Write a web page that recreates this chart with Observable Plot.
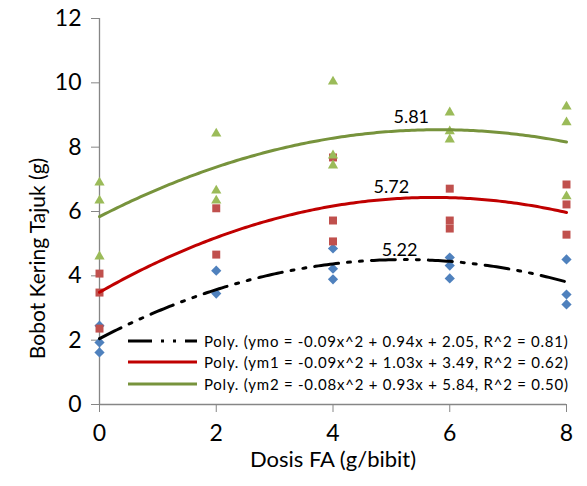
<!DOCTYPE html>
<html>
<head>
<meta charset="utf-8">
<script src="https://cdn.jsdelivr.net/npm/d3@7"></script>
<script src="https://cdn.jsdelivr.net/npm/@observablehq/plot@0.6"></script>
<style>
  body { margin: 0; background: #fff; }
  #chart { position: relative; width: 587px; height: 486px; font-family: Lato, "Liberation Sans", sans-serif; }
  #legend { position: absolute; left: 128px; top: 330px; font-size: 15px; letter-spacing: 0.75px; color: #000; }
  #legend .row { display: flex; align-items: center; height: 21.5px; white-space: nowrap; }
  #legend svg { margin-right: 6px; }
</style>
</head>
<body>
<div id="chart"></div>
<script>
// Doses of FA (g/bibit) on the x axis
const doseTicks = [0, 2, 4, 6, 8];
const weightTicks = [0, 2, 4, 6, 8, 10, 12];

// Observed shoot dry weight, ymo series (blue diamonds)
const ymoX = [0, 0, 0, 2, 2, 4, 4, 4, 6, 6, 6, 8, 8, 8];
const ymoY = [2.45, 1.93, 1.62, 4.16, 3.45, 4.85, 4.22, 3.89, 4.57, 4.32, 3.92, 4.51, 3.42, 3.11];

// ym1 series (red squares)
const ym1X = [0, 0, 0, 2, 2, 4, 4, 4, 6, 6, 6, 8, 8, 8];
const ym1Y = [4.07, 3.48, 2.36, 6.10, 4.66, 7.68, 5.72, 5.07, 6.71, 5.72, 5.47, 6.84, 6.22, 5.28];

// ym2 series (green triangles)
const ym2X = [0, 0, 0, 2, 2, 2, 4, 4, 4, 6, 6, 6, 8, 8, 8];
const ym2Y = [6.90, 6.34, 4.60, 8.42, 6.65, 6.34, 10.04, 7.74, 7.43, 9.08, 8.49, 8.24, 9.26, 8.77, 6.47];

// Polynomial trendline coefficients [a, b, c] for a*x^2 + b*x + c, and R^2
const seriesNames = ["ymo", "ym1", "ym2"];
const coefA = [-0.09, -0.09, -0.08];
const coefB = [0.94, 1.03, 0.93];
const coefC = [2.05, 3.49, 5.84];
const rSquared = ["0.81", "0.62", "0.50"];

// Dose at the peak of each fitted curve, printed above the curve
const peakDose = ["5.22", "5.72", "5.81"];
const peakLabelX = [5.14, 5.0, 5.34];
const peakLabelY = [4.79, 6.75, 8.92];

// Vertical position (in g) of the centre of the y-axis title
const yTitleAt = [4.54];

const trendColors = ["#000000", "#C00000", "#77933C"];
const trendDash = ["24,9,3,9,3,9", null, null];

const pts = (xs, ys) => xs.map((x, i) => ({x, y: ys[i]}));
const curve = (k) => d3.range(0, 8.0001, 0.05).map(x => ({x, y: coefA[k] * x * x + coefB[k] * x + coefC[k]}));

const axisGray = "#868686";

const plot = Plot.plot({
  width: 587,
  height: 486,
  marginLeft: 99,
  marginRight: 21,
  marginTop: 18,
  marginBottom: 82,
  style: {fontFamily: "Lato, 'Liberation Sans', sans-serif", background: "#fff", color: "#000"},
  x: {domain: [0, 8]},
  y: {domain: [0, 12]},
  marks: [
    Plot.axisY({ticks: weightTicks, tickSize: 8, tickPadding: 10, fontSize: 23, stroke: axisGray, fill: "#000", label: null}),
    Plot.axisX({ticks: doseTicks, tickSize: 8, tickPadding: 12, fontSize: 23, stroke: axisGray, fill: "#000", label: null}),
    Plot.ruleX([0], {stroke: axisGray, strokeWidth: 1.3}),
    Plot.ruleY([0], {stroke: axisGray, strokeWidth: 1.3}),
    Plot.text(["Bobot Kering Tajuk (g)"], {y: yTitleAt, frameAnchor: "left", textAnchor: "middle", rotate: -90, dx: -61, fontSize: 21, fill: "#000"}),
    Plot.text(["Dosis FA (g/bibit)"], {frameAnchor: "bottom", dy: 62, fontSize: 22, fill: "#000"}),
    Plot.dot(pts(ymoX, ymoY), {x: "x", y: "y", symbol: "diamond2", r: 4.6, fill: "#4F81BD", stroke: "none"}),
    Plot.dot(pts(ym1X, ym1Y), {x: "x", y: "y", symbol: "square", r: 4.5, fill: "#C0504D", stroke: "none"}),
    Plot.dot(pts(ym2X, ym2Y), {x: "x", y: "y", symbol: "triangle", r: 3.8, fill: "#9BBB59", stroke: "none"}),
    ...[0, 1, 2].map(k => Plot.line(curve(k), {x: "x", y: "y", stroke: trendColors[k], strokeWidth: 3, strokeDasharray: trendDash[k], curve: "linear"})),
    Plot.text(peakDose, {x: (d, i) => peakLabelX[i], y: (d, i) => peakLabelY[i], text: d => d, fontSize: 18, fill: "#000"})
  ]
});

const chart = document.getElementById("chart");
chart.appendChild(plot);

// Legend for the three trendlines, placed inside the plot area
const legend = document.createElement("div");
legend.id = "legend";
seriesNames.forEach((name, k) => {
  const row = document.createElement("div");
  row.className = "row";
  const sw = d3.create("svg").attr("width", 70).attr("height", 8);
  sw.append("line").attr("x1", 0).attr("x2", 69).attr("y1", 4).attr("y2", 4)
    .attr("stroke", trendColors[k]).attr("stroke-width", 3)
    .attr("stroke-dasharray", trendDash[k]);
  row.appendChild(sw.node());
  const fmt = v => (v < 0 ? "-" : "") + Math.abs(v).toFixed(2);
  const txt = document.createElement("span");
  txt.textContent = `Poly. (${name} = ${fmt(coefA[k])}x^2 + ${fmt(coefB[k])}x + ${fmt(coefC[k])}, R^2 = ${rSquared[k]})`;
  row.appendChild(txt);
  legend.appendChild(row);
});
chart.appendChild(legend);
</script>
</body>
</html>
